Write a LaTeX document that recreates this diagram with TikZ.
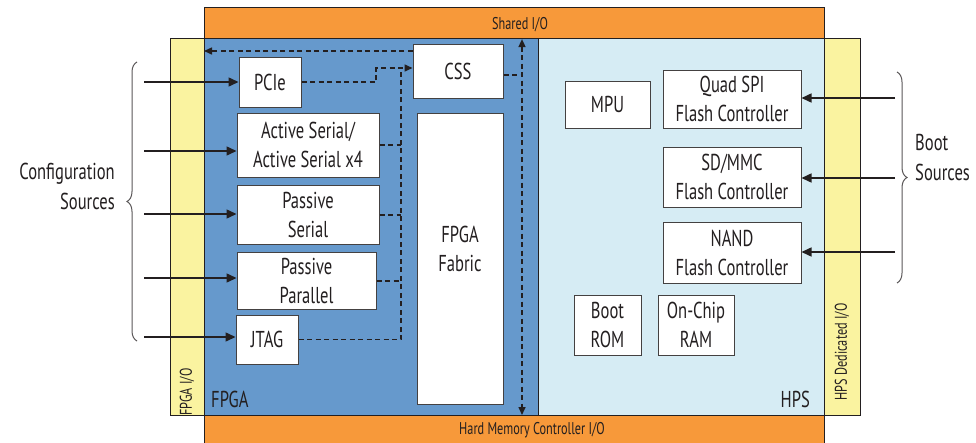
\documentclass[tikz,border=0pt]{standalone}
\usepackage{fontspec}
\setmainfont{PT Sans}[FakeStretch=0.72]
\usetikzlibrary{arrows.meta,decorations.pathreplacing}
\definecolor{orangeio}{HTML}{F7993A}
\definecolor{yellowio}{HTML}{FAF3A0}
\definecolor{fpgablue}{HTML}{6699CC}
\definecolor{hpsblue}{HTML}{D6ECF4}
\definecolor{ink}{HTML}{231F20}
\begin{document}
\begin{tikzpicture}[x=1pt,y=-1pt,
  box/.style={draw=ink!85, line width=1pt, fill=white, inner sep=0pt, align=center,
    font=\fontsize{23}{29}\selectfont, text=ink},
  region/.style={draw=ink, line width=1.1pt, inner sep=0pt, anchor=north west},
  small/.style={font=\fontsize{17}{18}\selectfont, text=ink, inner sep=0pt},
  big/.style={font=\fontsize{23}{30}\selectfont, text=ink, inner sep=0pt},
  dsh/.style={draw=ink, line width=1.5pt, dash pattern=on 5pt off 3.5pt},
  dtip/.style={-{Triangle[length=8pt,width=7pt]}},
  arr/.style={draw=ink, line width=1.5pt, -{Triangle[length=10pt,width=9pt]}},
  brc/.style={draw=ink!75, line width=1pt, decorate, decoration={brace, amplitude=10pt}}]
\useasboundingbox (0,0) rectangle (976,442);
\fill[white] (0,0) rectangle (976,442);
% regions
\node[region, fill=yellowio, minimum width=34pt, minimum height=377pt] (fpgaio) at (170,38) {};
\node[region, fill=yellowio, minimum width=36pt, minimum height=377pt] (hpsio) at (824,38) {};
\node[region, fill=fpgablue, minimum width=334pt, minimum height=377pt] (fpga) at (204,38) {};
\node[region, fill=hpsblue, minimum width=286pt, minimum height=377pt] (hps) at (538,38) {};
\node[region, fill=orangeio, minimum width=620pt, minimum height=31pt] (shared) at (204,7) {};
\node[region, fill=orangeio, minimum width=620pt, minimum height=32pt] (hmc) at (204,415) {};
% region labels
\node[small] (sharedlbl) at (520,25) {Shared I/O};
\node[small] (hmclbl) at (532,430) {Hard Memory Controller I/O};
\node[small, rotate=90] (fpgaiolbl) at (187,392) {FPGA I/O};
\node[small, rotate=90] (hpsiolbl) at (842,352) {HPS Dedicated I/O};
\node[big, anchor=south west] (fpgalbl) at (211,408) {FPGA};
\node[big, anchor=south east] (hpslbl) at (810,408) {HPS};
% FPGA boxes
\node[box, minimum width=62pt, minimum height=50pt] (pcie) at (270,82) {PCIe};
\node[box, minimum width=90pt, minimum height=54pt] (css) at (458,71) {CSS};
\node[box, minimum width=142pt, minimum height=64pt] (as) at (308,145) {Active Serial/\\Active Serial x4};
\node[box, minimum width=142pt, minimum height=59pt] (ps) at (308,215) {Passive\\Serial};
\node[box, minimum width=139pt, minimum height=57pt] (pp) at (306.5,281) {Passive\\Parallel};
\node[box, minimum width=62pt, minimum height=49pt] (jtag) at (267,339.5) {JTAG};
\node[box, minimum width=86pt, minimum height=291pt] (fabric) at (460,258.5) {FPGA\\Fabric\\[-9pt]};
% HPS boxes
\node[box, minimum width=85pt, minimum height=47pt] (mpu) at (607.5,104.5) {MPU};
\node[box, minimum width=138pt, minimum height=58pt] (qspi) at (732,99) {Quad SPI\\Flash Controller};
\node[box, minimum width=138pt, minimum height=60pt] (sdmmc) at (732,177) {SD/MMC\\Flash Controller};
\node[box, minimum width=138pt, minimum height=61pt] (nand) at (732,252.5) {NAND\\Flash Controller};
\node[box, minimum width=67pt, minimum height=60pt] (bootrom) at (607.5,325) {Boot\\ROM};
\node[box, minimum width=76pt, minimum height=60pt] (ocram) at (696,325) {On-Chip\\RAM};
% dashed connections
\coordinate (bus) at (401,68);
\coordinate (turn) at (376,68);
\coordinate (cssl) at (413,51);
\coordinate (vb) at (522,75);
\draw[dsh, dtip] (css.west |- cssl) -- (fpga.west |- cssl);
\draw[dsh, dtip] (pcie.east) -| (turn) -- (css.west |- turn);
\draw[dsh] (jtag.east) -| (bus);
\draw[dsh] (as.east) -- (as.east -| bus);
\draw[dsh] (ps.east) -- (ps.east -| bus);
\draw[dsh] (pp.east) -- (pp.east -| bus);
\draw[dsh] (css.east |- vb) -- (vb);
\draw[dsh, {Triangle[length=8pt,width=7pt]}-{Triangle[length=8pt,width=7pt]}] (vb |- shared.south) -- (vb |- hmc.north);
% configuration source arrows
\coordinate (c1) at (144,82);
\coordinate (c2) at (144,151);
\coordinate (c3) at (144,214);
\coordinate (c4) at (144,278);
\coordinate (c5) at (144,337);
\draw[arr] (c1) -- (c1 -| pcie.west);
\draw[arr] (c2) -- (c2 -| as.west);
\draw[arr] (c3) -- (c3 -| ps.west);
\draw[arr] (c4) -- (c4 -| pp.west);
\draw[arr] (c5) -- (c5 -| jtag.west);
% boot source arrows
\coordinate (b1) at (895,98);
\coordinate (b2) at (895,178);
\coordinate (b3) at (895,252);
\draw[arr] (b1) -- (b1 -| qspi.east);
\draw[arr] (b2) -- (b2 -| sdmmc.east);
\draw[arr] (b3) -- (b3 -| nand.east);
% braces
\coordinate (lb1) at (137,341);
\coordinate (lb2) at (137,62);
\coordinate (rb1) at (897,72);
\coordinate (rb2) at (897,283);
\draw[brc] (lb1) -- (lb2);
\draw[brc] (rb1) -- (rb2);
\node[big, anchor=east, align=right] (cfglbl) at (115,186) {Configuration\\Sources};
\node[big, anchor=west, align=left] (bootlbl) at (915,157) {Boot\\Sources};
\end{tikzpicture}
\end{document}
